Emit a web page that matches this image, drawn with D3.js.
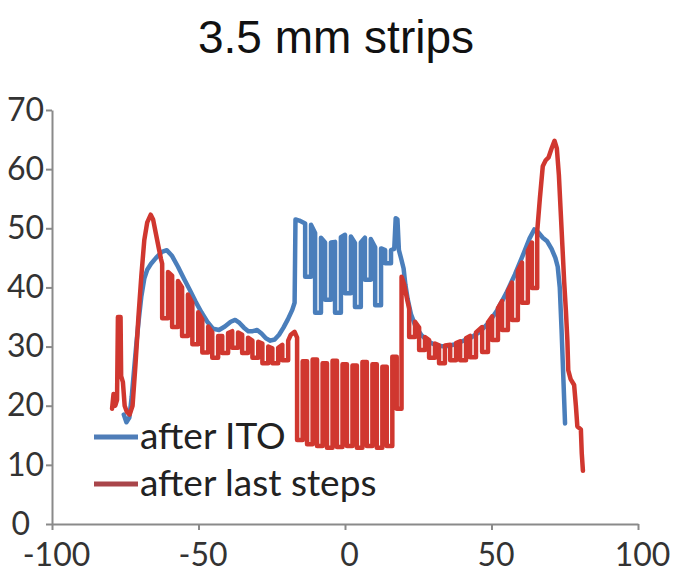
<!DOCTYPE html>
<html>
<head>
<meta charset="utf-8">
<script src="https://cdnjs.cloudflare.com/ajax/libs/d3/7.8.5/d3.min.js"></script>
<style>
  body { margin: 0; background: #fff; }
  svg { display: block; }
</style>
</head>
<body>
<script>
//tick values and legend names
var xTicks = [-100, -50, 0, 50, 100];
var yTicks = [0, 10, 20, 30, 40, 50, 60, 70];
var seriesNames = ['after ITO', 'after last steps'];

//profile after ITO, [position, value]
var afterITO = [
  [-75.5, 18.5], [-74.6, 17.2], [-73.6, 18], [-72.8, 21.5], [-72, 26], [-71.2, 30.5], [-70.4, 34.5],
  [-69.5, 38.5], [-68.5, 41.5], [-67.5, 43], [-66.2, 44], [-64.5, 45], [-62.5, 46], [-60.8, 46.3],
  [-59, 45.3], [-57, 43.5], [-55, 41.5], [-53, 39.6], [-51, 37.6], [-49, 35.8], [-47, 34.2], [-45, 33],
  [-43, 32.8], [-41, 33.4], [-39, 34.2], [-37.5, 34.5], [-36, 34], [-34.5, 33.2], [-33, 32.6],
  [-31.5, 32.6], [-30, 32.8], [-28.5, 32.2], [-27, 31.4], [-25.5, 31], [-24, 31.2], [-22.5, 32],
  [-21, 33.2], [-19.5, 34.6], [-18, 36.2], [-17.2, 37.4],
  [-16.9, 51.5], [-15.6, 51.3], [-13.6, 50.8], [-13.6, 41.8], [-11.6, 41.8], [-11.6, 50.6],
  [-10.2, 49.2], [-10.2, 35.7], [-8.2, 35.7], [-8.2, 48.4], [-6.8, 47.6], [-6.8, 37.9], [-4.8, 37.9],
  [-4.8, 47.6], [-3.4, 47.7], [-3.4, 35.7], [-1.4, 35.7], [-1.4, 48.5], [0, 48.9], [0, 39],
  [2.0, 39], [2.0, 48.6], [3.4, 47.5], [3.4, 36.7], [5.4, 36.7], [5.4, 47.6], [6.8, 48.4], [6.8, 41.3],
  [8.8, 41.3], [8.8, 48.2], [10.3, 46.8], [10.3, 37], [12.3, 37], [12.3, 46.6], [13.7, 46.3],
  [13.7, 44.1], [15.7, 44.1], [15.7, 46.3], [16.8, 46.5], [17.3, 51.7], [17.9, 51.5], [18.4, 46.3],
  [19.2, 44.8], [20, 43.2], [20.6, 40.5], [21.4, 38], [22.5, 35.5], [24, 33.5], [26, 32], [28, 31],
  [31, 30.2], [34, 30], [37, 30.3], [40, 30.9], [43, 31.5], [46, 32.5], [49, 34], [52, 36.2], [55, 39],
  [58, 42.2], [61, 45.8], [63, 48.3], [64.6, 49.8], [66, 49.3], [67.5, 48.4], [69, 47.8], [70.5, 46.5],
  [71.8, 45], [72.6, 43.5], [73.3, 40], [73.9, 33], [74.5, 25], [75.1, 17]
];

//profile after the last steps, [position, value]
var afterLastSteps = [
  [-79.5, 19.5], [-79, 22], [-78.4, 20], [-77.8, 21], [-77.5, 35], [-76.6, 35], [-76.4, 25],
  [-75.8, 24], [-75.2, 20], [-74.5, 19], [-73.5, 18.5], [-72.5, 20], [-71.5, 27], [-70.5, 35],
  [-69.5, 42], [-68.5, 48], [-67.5, 51], [-66.3, 52.3], [-65.5, 51.5], [-64.5, 49], [-63.5, 46.5],
  [-62.8, 44.8], [-62.4, 44], [-62.4, 34.8], [-60.4, 34.8], [-60.4, 42.6], [-59.0, 42], [-59.0, 33.3],
  [-57.0, 33.3], [-57.0, 41.1], [-55.6, 40], [-55.6, 31.8], [-53.6, 31.8], [-53.6, 38.8], [-52.1, 37.4],
  [-52.1, 30.4], [-50.1, 30.4], [-50.1, 35.8], [-48.7, 34.6], [-48.7, 29], [-46.7, 29], [-46.7, 33.4],
  [-45.3, 32.4], [-45.3, 28.1], [-43.3, 28.1], [-43.3, 31.8], [-41.9, 31.8], [-41.9, 28.9],
  [-39.9, 28.9], [-39.9, 32.3], [-38.5, 32.6], [-38.5, 29.8], [-36.5, 29.8], [-36.5, 32.4],
  [-35.1, 32], [-35.1, 28.9], [-33.1, 28.9], [-33.1, 31.5], [-31.6, 31], [-31.6, 28.1], [-29.6, 28.1],
  [-29.6, 30.8], [-28.2, 30.5], [-28.2, 27.2], [-26.2, 27.2], [-26.2, 30], [-24.8, 29.7], [-24.8, 27.2],
  [-22.8, 27.2], [-22.8, 29.8], [-21.4, 30.3], [-21.4, 27.7], [-19.4, 27.7], [-19.4, 31], [-18.5, 32],
  [-17.2, 32.5], [-16.35, 31.5],
  [-16.35, 14.2], [-14.45, 14.2], [-14.45, 27.5], [-12.95, 27.5], [-12.95, 13.5], [-11.05, 13.5],
  [-11.05, 27.8], [-9.55, 27.8], [-9.55, 13.2], [-7.65, 13.2], [-7.65, 27.2], [-6.15, 27.2],
  [-6.15, 12.9], [-4.25, 12.9], [-4.25, 27.6], [-2.75, 27.6], [-2.75, 13], [-0.85, 13], [-0.85, 27],
  [0.65, 27], [0.65, 13.2], [2.55, 13.2], [2.55, 26.8], [4.05, 26.8], [4.05, 12.9], [5.95, 12.9],
  [5.95, 27.4], [7.45, 27.4], [7.45, 13.2], [9.35, 13.2], [9.35, 27], [10.85, 27], [10.85, 12.9],
  [12.75, 12.9], [12.75, 26.6], [14.25, 26.6], [14.25, 13.2], [16.15, 13.2], [16.15, 28.3],
  [17.65, 28.3], [17.65, 19.5], [19.3, 19.5],
  [19.3, 41.8], [20.2, 40.5], [21.2, 38], [21.9, 36.4], [21.9, 31.6], [23.9, 31.6], [23.9, 34.2],
  [25.3, 33.2], [25.3, 29.4], [27.3, 29.4], [27.3, 31.6], [28.7, 31.1], [28.7, 28.1], [30.7, 28.1],
  [30.7, 30.5], [32.1, 30.2], [32.1, 27.2], [34.1, 27.2], [34.1, 30.2], [35.9, 30.3], [35.9, 27.7],
  [37.9, 27.7], [37.9, 30.6], [39.3, 30.9], [39.3, 27.7], [41.3, 27.7], [41.3, 31.4], [42.7, 31.8],
  [42.7, 28.2], [44.7, 28.2], [44.7, 32.4], [46.8, 33.3], [46.8, 29.1], [48.8, 29.1], [48.8, 34.1],
  [50.2, 35.1], [50.2, 31.1], [52.2, 31.1], [52.2, 36.5], [53.6, 37.7], [53.6, 32.8], [55.6, 32.8],
  [55.6, 39.4], [57.0, 40.8], [57.0, 34.5], [59.0, 34.5], [59.0, 42.8], [60.4, 44.2], [60.4, 37.4],
  [62.4, 37.4], [62.4, 46.2], [63.8, 47.6], [63.8, 39.9], [65.6, 39.9], [65.6, 49.5],
  [66.5, 55], [67.5, 60.5], [68.5, 61.5], [69.5, 62], [70.5, 63.5], [71.5, 64.8], [72.3, 63.5],
  [73, 59], [73.6, 53], [74.2, 47], [74.8, 41], [75.4, 36], [75.9, 31], [76.2, 26], [77, 24.5],
  [78.2, 23.5], [78.8, 20], [79.3, 16.5], [80.5, 16], [80.8, 12], [81.2, 9]
];

var colors = ['#4a7ebb', '#d0372f'];
var legendColors = ['#4f7db8', '#a9454a'];

//setup graph size
var W = 673, H = 587;
var margin = {top: 110, bottom: 63, right: 35, left: 52};
var width = W - margin.left - margin.right,
    height = H - margin.top - margin.bottom;

var xScale = d3.scaleLinear().domain([-100, 100]).range([0, width]),
    yScale = d3.scaleLinear().domain([0, 70]).range([height, 0]);

var svg = d3.select('body').append('svg')
    .attr('width', W)
    .attr('height', H);

//title
svg.append('text')
    .attr('x', 336)
    .attr('y', 53)
    .attr('text-anchor', 'middle')
    .style('font-family', 'Liberation Sans, Arial, sans-serif')
    .style('font-size', '46px')
    .style('fill', '#111')
    .text('3.5 mm strips');

var g = svg.append('g')
    .attr('transform', 'translate(' + margin.left + ',' + margin.top + ')');

var labelFont = 'Lato, Open Sans, sans-serif';
var plain = function(d) {return String(d)};

//axes
var xAxis = d3.axisBottom(xScale).tickValues(xTicks).tickFormat(plain)
    .tickSize(6).tickSizeOuter(0).tickPadding(13);
var yAxis = d3.axisLeft(yScale).tickValues(yTicks).tickFormat(plain)
    .tickSize(6).tickSizeOuter(0).tickPadding(2);

var gx = g.append('g')
    .attr('transform', 'translate(0,' + height + ')')
    .call(xAxis);
var gy = g.append('g').call(yAxis);

[gx, gy].forEach(function(a) {
  a.select('.domain').attr('stroke', '#8a8a8a').attr('stroke-width', 2);
  a.selectAll('.tick line').attr('stroke', '#8a8a8a').attr('stroke-width', 2);
  a.selectAll('.tick text')
      .style('font-family', labelFont)
      .style('font-size', '32px')
      .style('fill', '#333');
});
gx.selectAll('.tick text').attr('dx', 4);
//the zero label sits a little left of the others
gy.selectAll('.tick text').filter(function(d) {return d === 0})
    .attr('dx', -14);

//lines
var line = d3.line()
    .x(function(d) {return xScale(d[0])})
    .y(function(d) {return yScale(d[1])});

[afterITO, afterLastSteps].forEach(function(data, i) {
  g.append('path')
      .datum(data)
      .attr('d', line)
      .attr('fill', 'none')
      .attr('stroke', colors[i])
      .attr('stroke-width', 4.5)
      .attr('stroke-linejoin', 'round')
      .attr('stroke-linecap', 'round');
});

//legend
var legend = svg.append('g');
seriesNames.forEach(function(name, i) {
  var ly = 437 + i * 47;
  legend.append('line')
      .attr('x1', 94).attr('x2', 138)
      .attr('y1', ly).attr('y2', ly)
      .attr('stroke', legendColors[i])
      .attr('stroke-width', 5);
  legend.append('text')
      .attr('x', 140)
      .attr('y', ly + 12)
      .style('font-family', labelFont)
      .style('font-size', '37px')
      .style('fill', '#222')
      .text(name);
});
</script>
</body>
</html>
